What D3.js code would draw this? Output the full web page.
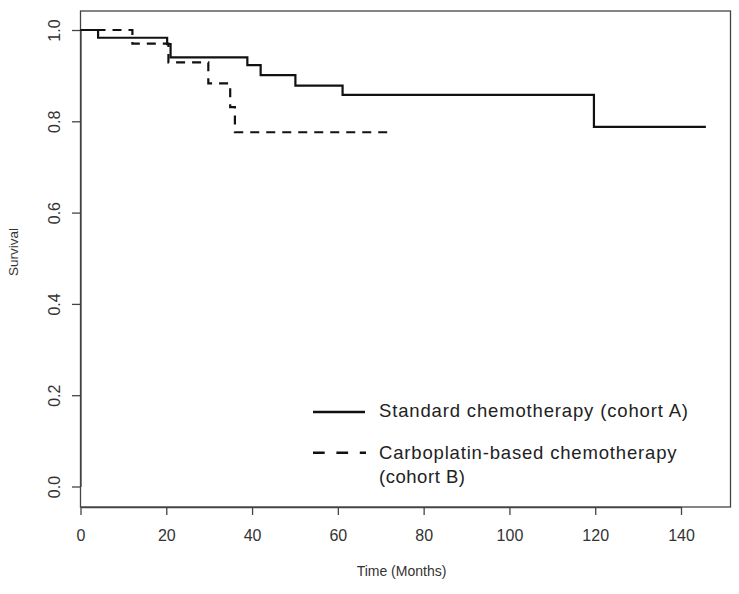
<!DOCTYPE html>
<html>
<head>
<meta charset="utf-8">
<script src="https://cdn.jsdelivr.net/npm/d3@7"></script>
<style>
  html, body { margin: 0; padding: 0; background: #fff; }
  svg { display: block; font-family: "Liberation Sans", Arial, sans-serif; }
</style>
</head>
<body>
<div id="chart"></div>
<script>
// ---- data ----
const timesA = [0, 4.1, 20.2, 21.0, 38.9, 42.0, 50.1, 61.1, 119.7, 145.8];
const survA  = [1.0, 0.983, 0.969, 0.940, 0.923, 0.901, 0.878, 0.858, 0.788, 0.788];
const timesB = [0, 12.1, 20.5, 29.8, 34.9, 36.0, 71.5];
const survB  = [1.0, 0.970, 0.929, 0.883, 0.831, 0.776, 0.776];
const xTicks = [0, 20, 40, 60, 80, 100, 120, 140];
const yTicks = [0.0, 0.2, 0.4, 0.6, 0.8, 1.0];
const seriesNames = ["Standard chemotherapy (cohort A)", "Carboplatin-based chemotherapy", "(cohort B)"];
const xTitle = "Time (Months)";
const yTitle = "Survival";

// ---- layout ----
const W = 739, H = 594;
const frame = { left: 80.5, top: 11, right: 730.5, bottom: 507 };
const svg = d3.select("#chart").append("svg").attr("width", W).attr("height", H);

const x = d3.scaleLinear().domain([0, 140]).range([80.5, 681]);
const y = d3.scaleLinear().domain([0, 1]).range([486.5, 30]);

// frame
svg.append("rect")
  .attr("x", frame.left).attr("y", frame.top)
  .attr("width", frame.right - frame.left).attr("height", frame.bottom - frame.top)
  .attr("fill", "none").attr("stroke", "#444").attr("stroke-width", 1.3);

// x axis
const gx = svg.append("g").attr("transform", `translate(0,${frame.bottom})`)
  .call(d3.axisBottom(x).tickValues(xTicks).tickFormat(d3.format("d")).tickSize(8).tickSizeOuter(0).tickPadding(15));
gx.select(".domain").attr("stroke", "#444").attr("stroke-width", 1.3);
gx.selectAll(".tick line").attr("stroke", "#444").attr("stroke-width", 1.3);
gx.selectAll(".tick text").attr("font-size", 16).attr("fill", "#333")
  .attr("font-family", "Liberation Sans, Arial, sans-serif");

// y axis
const gy = svg.append("g").attr("transform", `translate(${frame.left},0)`)
  .call(d3.axisLeft(y).tickValues(yTicks).tickFormat(d3.format(".1f")).tickSize(8.5).tickSizeOuter(0));
gy.select(".domain").attr("stroke", "#444").attr("stroke-width", 1.3);
gy.selectAll(".tick line").attr("stroke", "#444").attr("stroke-width", 1.3);
gy.selectAll(".tick text")
  .attr("font-size", 16).attr("fill", "#333")
  .attr("font-family", "Liberation Sans, Arial, sans-serif")
  .attr("x", null).attr("dy", null)
  .attr("text-anchor", "middle")
  .attr("transform", "translate(-20.5,0) rotate(-90)");

// axis titles
svg.append("text").attr("x", 401.5).attr("y", 576)
  .attr("text-anchor", "middle").attr("font-size", 14).attr("fill", "#333").text(xTitle);
svg.append("text").attr("transform", "translate(17.5,252) rotate(-90)")
  .attr("text-anchor", "middle").attr("font-size", 13.5).attr("fill", "#333").text(yTitle);

// curves
const line = d3.line().curve(d3.curveStepAfter).x(d => x(d[0])).y(d => y(d[1]));
svg.append("path").datum(d3.zip(timesA, survA))
  .attr("d", line).attr("fill", "none").attr("stroke", "#111").attr("stroke-width", 2.2);
svg.append("path").datum(d3.zip(timesB, survB))
  .attr("d", line).attr("fill", "none").attr("stroke", "#111").attr("stroke-width", 2.2)
  .attr("stroke-dasharray", "9,7");

// legend
const lg = svg.append("g");
lg.append("line").attr("x1", 313).attr("x2", 365).attr("y1", 412).attr("y2", 412)
  .attr("stroke", "#111").attr("stroke-width", 2.4);
lg.append("line").attr("x1", 313).attr("x2", 366).attr("y1", 452.7).attr("y2", 452.7)
  .attr("stroke", "#111").attr("stroke-width", 2.4).attr("stroke-dasharray", "11.7,11.7");
const legendText = [
  { t: seriesNames[0], y: 416.7, w: 309 },
  { t: seriesNames[1], y: 458.7, w: 297.5 },
  { t: seriesNames[2], y: 482.7, w: 86 }
];
lg.selectAll("text.lt").data(legendText).join("text").attr("class", "lt")
  .attr("x", 379).attr("y", d => d.y)
  .attr("font-size", 18.5).attr("fill", "#222")
  .attr("textLength", d => d.w).attr("lengthAdjust", "spacing")
  .text(d => d.t);
</script>
</body>
</html>
